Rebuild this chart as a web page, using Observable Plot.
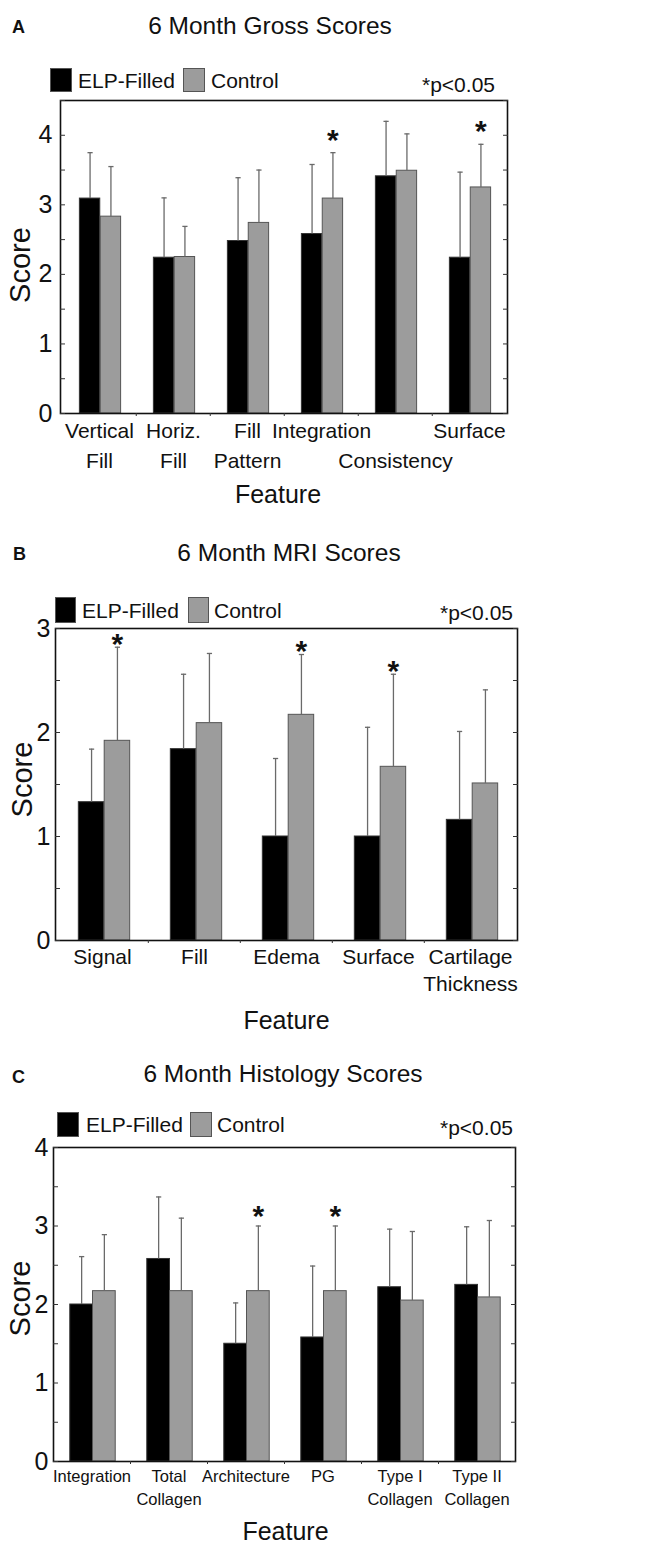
<!DOCTYPE html>
<html>
<head>
<meta charset="utf-8">
<script src="https://cdn.jsdelivr.net/npm/d3@7"></script>
<script src="https://cdn.jsdelivr.net/npm/@observablehq/plot@0.6"></script>
<style>
  html, body { margin: 0; padding: 0; background: #fff; }
  body { font-family: "Liberation Sans", Arial, Helvetica, sans-serif; color: #111; }
  #root { position: relative; width: 652px; height: 1543px; overflow: hidden; background: #fff; }
  .svgwrap { position: absolute; left: 0; z-index: 1; }
  .t { position: absolute; white-space: nowrap; z-index: 2; }
  .sq { position: absolute; z-index: 2; box-sizing: border-box; }
</style>
</head>
<body>
<div id="root"></div>
<script>
// ---------------- DATA ----------------
// Panel A: 6 Month Gross Scores
const featuresA = ["Vertical Fill", "Horiz. Fill", "Fill Pattern", "Integration", "Consistency", "Surface"];
const tickLabelsA = ["Vertical\nFill", "Horiz.\nFill", "Fill\nPattern", "Integration", "\u00a0\nConsistency", "Surface"];
const elpA = [3.09, 2.24, 2.48, 2.58, 3.41, 2.24];
const elpSdA = [0.66, 0.86, 0.91, 1.00, 0.79, 1.23];
const ctrlA = [2.83, 2.25, 2.74, 3.09, 3.49, 3.25];
const ctrlSdA = [0.72, 0.44, 0.76, 0.66, 0.53, 0.62];
const sigA = [false, false, false, true, false, true];

// Panel B: 6 Month MRI Scores
const featuresB = ["Signal", "Fill", "Edema", "Surface", "Cartilage Thickness"];
const tickLabelsB = ["Signal", "Fill", "Edema", "Surface", "Cartilage\nThickness"];
const elpB = [1.33, 1.84, 1.00, 1.00, 1.16];
const elpSdB = [0.51, 0.72, 0.75, 1.05, 0.85];
const ctrlB = [1.92, 2.09, 2.17, 1.67, 1.51];
const ctrlSdB = [0.90, 0.67, 0.58, 0.89, 0.90];
const sigB = [true, false, true, true, false];

// Panel C: 6 Month Histology Scores
const featuresC = ["Integration", "Total Collagen", "Architecture", "PG", "Type I Collagen", "Type II Collagen"];
const tickLabelsC = ["Integration", "Total\nCollagen", "Architecture", "PG", "Type I\nCollagen", "Type II\nCollagen"];
const elpC = [2.00, 2.58, 1.50, 1.58, 2.22, 2.25];
const elpSdC = [0.61, 0.79, 0.52, 0.91, 0.74, 0.74];
const ctrlC = [2.17, 2.17, 2.17, 2.17, 2.05, 2.09];
const ctrlSdC = [0.72, 0.93, 0.83, 0.83, 0.88, 0.98];
const sigC = [false, false, true, true, false, false];

const seriesNames = ["ELP-Filled", "Control"];
const pNote = "*p<0.05";
const yLabel = "Score";
const xLabel = "Feature";

// ---------------- LAYOUT ----------------
const W = 652;
const FONT = '"Liberation Sans", Arial, Helvetica, sans-serif';
const BLACK = "#000";
const GRAY = "#9c9c9c";
const root = document.getElementById("root");

const capSymbol = {
  draw(ctx, size) {
    const r = Math.sqrt(size / Math.PI);
    ctx.moveTo(-r, 0);
    ctx.lineTo(r, 0);
  }
};

function addText(str, {left, right, top, size, weight = "normal", center = false}) {
  const el = document.createElement("div");
  el.className = "t";
  el.textContent = str;
  el.style.fontSize = size + "px";
  el.style.lineHeight = size + "px";
  el.style.fontWeight = weight;
  el.style.top = top + "px";
  if (center) { el.style.left = left + "px"; el.style.transform = "translateX(-50%)"; }
  else if (right != null) el.style.right = right + "px";
  else el.style.left = left + "px";
  root.appendChild(el);
}
function addSquare(left, top, w, h, color) {
  const el = document.createElement("div");
  el.className = "sq";
  el.style.left = left + "px"; el.style.top = top + "px";
  el.style.width = w + "px"; el.style.height = h + "px";
  el.style.background = color;
  el.style.border = "1px solid #555";
  root.appendChild(el);
}

function drawPanel(d, g) {
  const {features, tickLabels, elp, elpSd, ctrl, ctrlSd, sig} = d;
  const n = features.length;
  const band = (g.right - g.left) / n;
  const w = band * g.barFrac;
  const s = g.shift;
  const rows = features.map((f, i) => ({
    f, elp: elp[i], elpTop: elp[i] + elpSd[i], ctrl: ctrl[i], ctrlTop: ctrl[i] + ctrlSd[i], sig: sig[i]
  }));
  const mt = 10;
  const height = mt + (g.bottom - g.top) + g.mb;
  const majors = d3.range(0, g.yMax + 1e-9, 1);
  const minors = d3.range(0, g.yMax + 1e-9, 0.5);

  const chart = Plot.plot({
    width: W, height,
    marginTop: mt, marginBottom: g.mb, marginLeft: g.left, marginRight: W - g.right,
    style: {fontFamily: FONT, background: "transparent", color: "#111", overflow: "visible"},
    x: {domain: features, padding: 0},
    y: {domain: [0, g.yMax]},
    marks: [
      Plot.barY(rows, {x: "f", y: "elp", fill: BLACK, stroke: "#333", strokeWidth: 1,
        insetLeft: band / 2 - w + s, insetRight: band / 2 - s}),
      Plot.barY(rows, {x: "f", y: "ctrl", fill: GRAY, stroke: "#555", strokeWidth: 1,
        insetLeft: band / 2 + s, insetRight: band / 2 - w - s}),
      Plot.ruleX(rows, {x: "f", y1: "elp", y2: "elpTop", dx: -w / 2 + s, stroke: "#6a6a6a", strokeWidth: 1.3}),
      Plot.ruleX(rows, {x: "f", y1: "ctrl", y2: "ctrlTop", dx: w / 2 + s, stroke: "#6a6a6a", strokeWidth: 1.3}),
      Plot.dot(rows, {x: "f", y: "elpTop", dx: -w / 2 + s, symbol: capSymbol, r: 2.6, stroke: "#6a6a6a", strokeWidth: 1.3, fill: "none"}),
      Plot.dot(rows, {x: "f", y: "ctrlTop", dx: w / 2 + s, symbol: capSymbol, r: 2.6, stroke: "#6a6a6a", strokeWidth: 1.3, fill: "none"}),
      Plot.text(rows.filter(r => r.sig), {x: "f", y: "ctrlTop", text: () => "*", dx: w / 2 + s, dy: g.starDy,
        fontSize: 30, fontWeight: "bold", lineAnchor: "middle", fill: "#111"}),
      Plot.frame({stroke: "#111", strokeWidth: 1.6}),
      Plot.axisY(majors, {anchor: "left", tickSize: 0, tickPadding: g.ytp, fontSize: 25, label: null, tickFormat: d3.format("d")}),
      Plot.axisY(minors, {anchor: "left", tickSize: -5, tickFormat: () => "", label: null, stroke: "#333"}),
      Plot.axisY(minors, {anchor: "right", tickSize: -5, tickFormat: () => "", label: null, stroke: "#333"}),
      Plot.axisX({tickSize: 0, tickPadding: g.xtp, fontSize: g.xfs, lineHeight: g.lh,
        tickFormat: v => tickLabels[features.indexOf(v)], label: null}),
      Plot.axisX(features.slice(1), {tickSize: 3, dx: -band / 2, tickFormat: () => "", label: null, stroke: "#333"}),
      Plot.text([yLabel], {text: t => t, frameAnchor: "left", rotate: -90, dx: g.scoreDx, dy: g.scoreDy,
        fontSize: 29, textAnchor: "middle", lineAnchor: "middle"}),
      Plot.text([xLabel], {text: t => t, frameAnchor: "bottom", dx: g.featDx, dy: g.featDy,
        fontSize: 25, lineAnchor: "bottom"})
    ]
  });
  const wrap = document.createElement("div");
  wrap.className = "svgwrap";
  wrap.style.top = (g.top - mt) + "px";
  wrap.appendChild(chart);
  root.appendChild(wrap);

  // titles, panel letter, legend
  addText(g.letter, {left: g.letterX, top: g.letterTop, size: 18, weight: "bold"});
  addText(g.title, {left: g.titleX, top: g.titleTop, size: 24.5, center: true});
  addSquare(g.lg.bx, g.lg.y, g.lg.w, g.lg.h, BLACK);
  addText(seriesNames[0], {left: g.lg.t1, top: g.lg.tt, size: 21});
  addSquare(g.lg.gx, g.lg.y, g.lg.w, g.lg.h, GRAY);
  addText(seriesNames[1], {left: g.lg.t2, top: g.lg.tt, size: 21});
  addText(pNote, {right: W - g.lg.pr, top: g.lg.pt, size: 21});
}

drawPanel(
  {features: featuresA, tickLabels: tickLabelsA, elp: elpA, elpSd: elpSdA, ctrl: ctrlA, ctrlSd: ctrlSdA, sig: sigA},
  {left: 60, right: 507, top: 100, bottom: 413, yMax: 4.5, mb: 100, barFrac: 0.28, shift: 1,
   ytp: 8, xtp: 3, xfs: 21, lh: 1.43, scoreDx: -40, scoreDy: 8, featDx: -6, featDy: 89, starDy: -12.5,
   letter: "A", letterX: 12, letterTop: 18, title: "6 Month Gross Scores", titleX: 270, titleTop: 14,
   lg: {bx: 50, gx: 183, y: 68, w: 22, h: 24, t1: 78, t2: 211, tt: 70, pr: 495, pt: 74}}
);
drawPanel(
  {features: featuresB, tickLabels: tickLabelsB, elp: elpB, elpSd: elpSdB, ctrl: ctrlB, ctrlSd: ctrlSdB, sig: sigB},
  {left: 55, right: 517, top: 628, bottom: 940, yMax: 3, mb: 100, barFrac: 0.28, shift: 2,
   ytp: 5, xtp: 4, xfs: 21, lh: 1.29, scoreDx: -33, scoreDy: -5, featDx: 0, featDy: 88, starDy: -3,
   letter: "B", letterX: 13, letterTop: 545, title: "6 Month MRI Scores", titleX: 289, titleTop: 541,
   lg: {bx: 55, gx: 188, y: 597, w: 21, h: 26, t1: 82, t2: 214, tt: 600, pr: 513, pt: 602}}
);
drawPanel(
  {features: featuresC, tickLabels: tickLabelsC, elp: elpC, elpSd: elpSdC, ctrl: ctrlC, ctrlSd: ctrlSdC, sig: sigC},
  {left: 53, right: 515, top: 1147, bottom: 1461, yMax: 4, mb: 82, barFrac: 0.295, shift: 1,
   ytp: 5, xtp: 4.5, xfs: 16.5, lh: 1.39, scoreDx: -33, scoreDy: -6, featDx: 1, featDy: 78, starDy: -9.5,
   letter: "C", letterX: 12, letterTop: 1068, title: "6 Month Histology Scores", titleX: 283, titleTop: 1062,
   lg: {bx: 57, gx: 190, y: 1112, w: 22, h: 25, t1: 86, t2: 217, tt: 1114, pr: 513, pt: 1117}}
);
</script>
</body>
</html>
